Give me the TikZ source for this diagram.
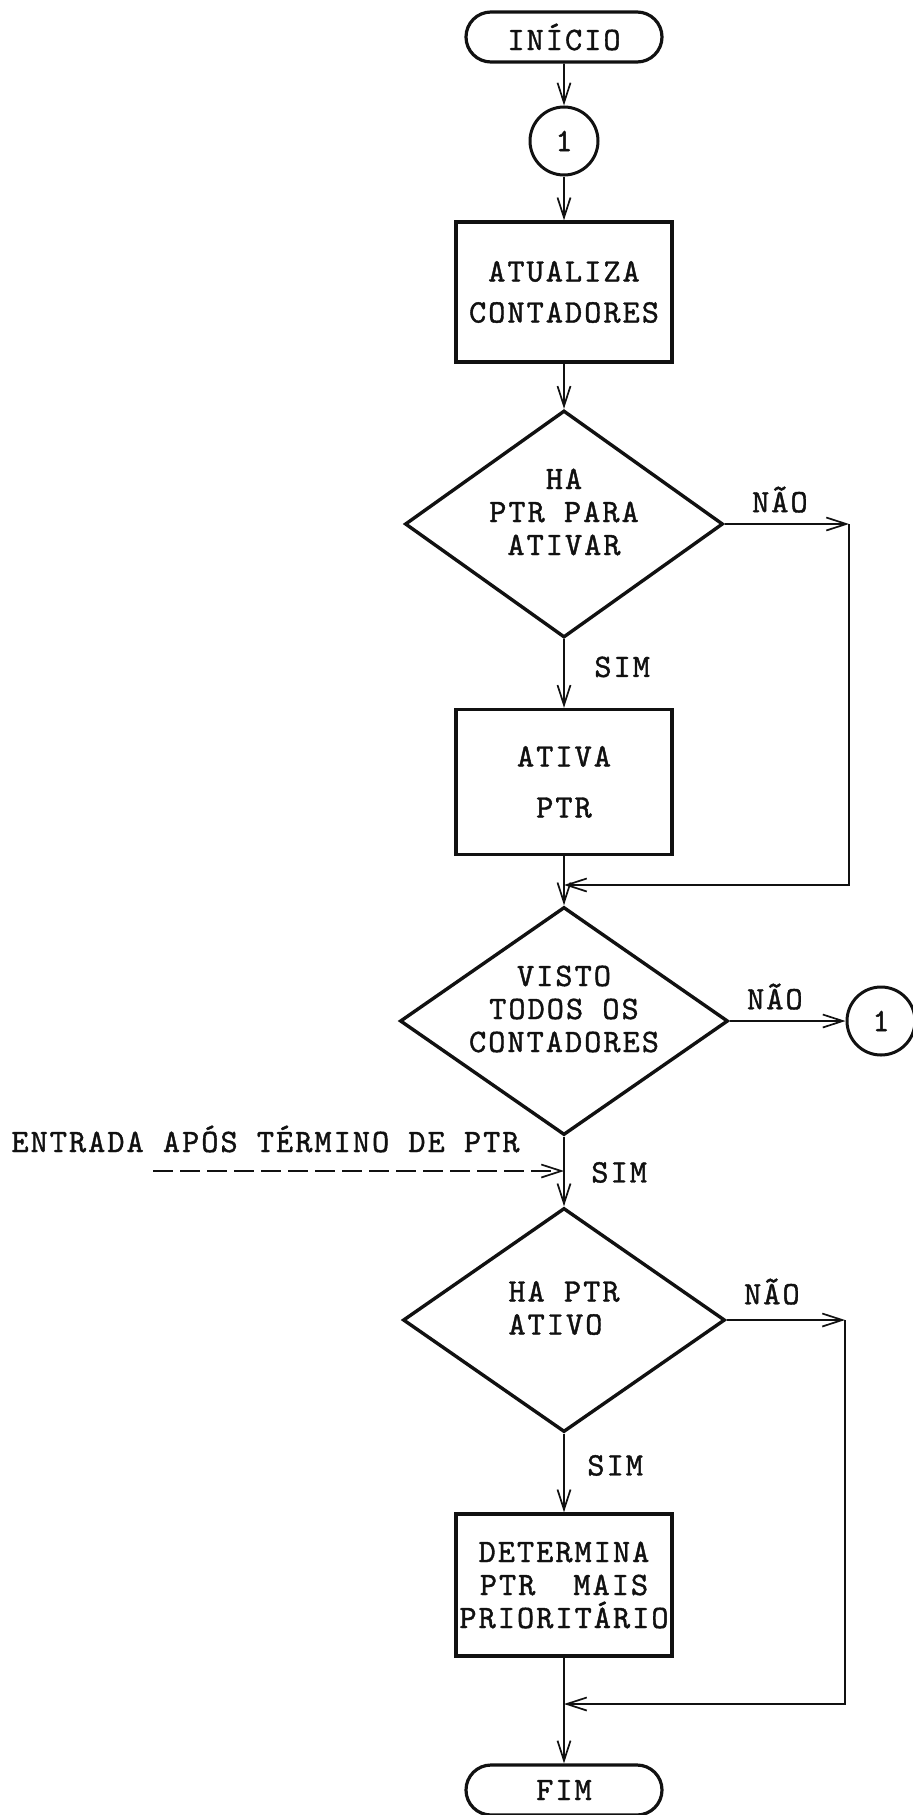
\documentclass[tikz,border=0pt]{standalone}
\usepackage{fontspec}
\usepackage{tikz}
\usetikzlibrary{positioning, shapes.geometric, shapes.misc, arrows.meta}
\definecolor{tapeInk}{HTML}{111111}
\colorlet{flowInk}{tapeInk}
\newfontfamily\twfamily{lmmono10-regular}[Extension=.otf, LetterSpace=6.2, FakeBold=1.2]
\newcommand\typewriter{\twfamily\fontsize{16.35pt}{16.5pt}\selectfont}

\begin{document}
\begin{tikzpicture}[x=0.5pt, y=-0.5pt, font=\typewriter, color=flowInk,
  terminal/.style={draw, rounded rectangle, line width=1.6pt,
    minimum width=98pt, minimum height=25pt, inner sep=0pt},
  connector/.style={draw, circle, line width=1.5pt, minimum size=34pt, inner sep=0pt},
  process/.style={draw, rectangle, line width=1.7pt, minimum width=108pt,
    minimum height=71pt, inner sep=0pt, align=center},
  decision/.style={draw, diamond, line width=1.7pt, inner sep=0pt,
    minimum width=161pt, minimum height=112pt},
  qtext/.style={align=center, yshift=6pt},
  flow/.style={line width=0.85pt, -{Straight Barb[length=10pt, width=6.5pt, line width=0.85pt]}},
  answer/.style={inner sep=0pt}]
  \useasboundingbox (0,0) rectangle (913,1815);

  % main column
  \node[terminal] (ini) at (564,37) {INÍCIO};
  \node[connector] (c1) at (564,141) {1};
  \node[process, minimum height=70pt] (atu) at (564,292) {ATUALIZA\\[4pt]CONTADORES};
  \node[decision, minimum width=159pt, minimum height=113.5pt,
        label={[qtext]center:{HA\\PTR PARA\\ATIVAR}}] (q1) at (564,524) {};
  \node[process, minimum height=72.5pt] (ativa) at (564,782) {ATIVA\\[9pt]PTR};
  \node[decision, minimum width=164pt, minimum height=114pt,
        label={[qtext]center:{VISTO\\TODOS OS\\CONTADORES}}] (q2) at (564,1021) {};
  \node[connector] (c1b) at (881,1021) {1};
  \node[decision, label={[qtext, align=left]center:{HA PTR\\ATIVO}}] (q3) at (564,1320) {};
  \node[process] (det) at (564,1585) {DETERMINA\\PTR\hspace{19pt}MAIS\\PRIORITÁRIO};
  \node[terminal] (fim) at (564,1790) {FIM};

  \draw[flow] (ini) -- (c1);
  \draw[flow] (c1) -- (atu);
  \draw[flow] (atu) -- (q1);
  \draw[flow] (q1) -- (ativa);
  \draw[flow] (ativa) -- (q2);
  \draw[flow] (q2) -- (q3);
  \draw[flow] (q3) -- (det);
  \draw[flow] (det) -- (fim);

  % first bypass
  \coordinate (r1) at (849,524);
  \coordinate (j1) at (564,885);
  \draw[flow] (q1.east) -- (r1);
  \draw[flow] (r1) |- (j1);
  \node[answer, above right=5.5pt and 13.5pt of q1.east] (n1) {NÃO};
  \node[answer, below right=8.5pt and 15pt of q1.south] (s1) {SIM};

  % all counters seen?
  \draw[flow] (q2.east) -- (c1b.west);
  \node[answer, above right=5.5pt and 8.5pt of q2.east] (n2) {NÃO};
  \node[answer, below right=12.5pt and 13.5pt of q2.south] (s2) {SIM};

  \node[answer, anchor=base west] (entlbl) at (11,1152) {ENTRADA APÓS TÉRMINO DE PTR};
  \coordinate (ent) at (153,1171);
  \draw[flow, dash pattern=on 10pt off 3.5pt] (ent) -- (ent -| q2.south);

  % second bypass
  \coordinate (r3) at (845,1320);
  \coordinate (j3) at (564,1704);
  \draw[flow] (q3.east) -- (r3);
  \draw[flow] (r3) |- (j3);
  \node[answer, above right=7.5pt and 8.5pt of q3.east] (n3) {NÃO};
  \node[answer, below right=10.5pt and 11.5pt of q3.south] (s3) {SIM};
\end{tikzpicture}
\end{document}
